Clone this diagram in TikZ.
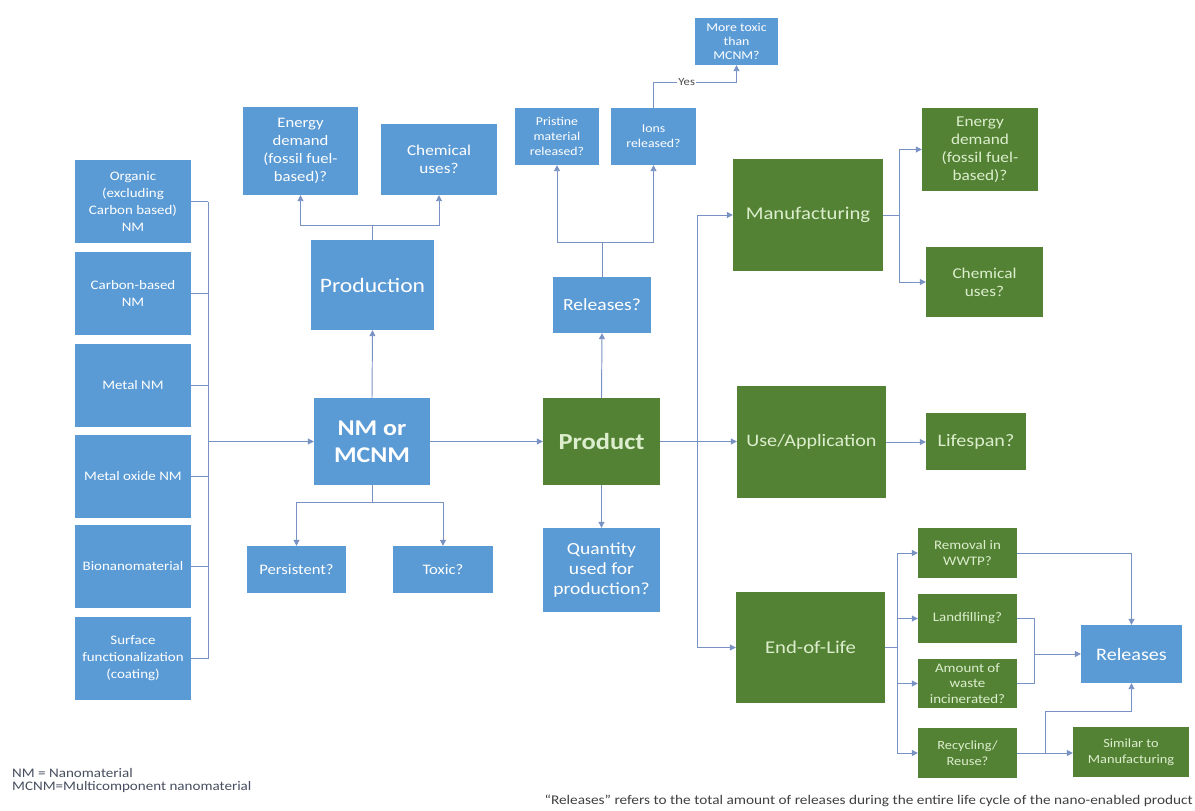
\documentclass[tikz,border=0pt]{standalone}
\usepackage{fontspec}
\setmainfont{Carlito}[FakeStretch=1.15]
\usetikzlibrary{arrows.meta}
\usetikzlibrary{positioning}

\definecolor{boxblue}{RGB}{91,155,213}
\definecolor{boxgreen}{RGB}{84,130,53}
\definecolor{greentext}{RGB}{220,238,205}
\definecolor{wireblue}{RGB}{120,146,196}
\definecolor{notegray}{RGB}{70,78,95}

\begin{document}
\begin{tikzpicture}[x=1pt, y=-1pt,
    bluebox/.style={fill=boxblue, text=white, align=center, inner sep=1pt},
    greenbox/.style={fill=boxgreen, text=greentext, align=center, inner sep=1pt},
    wire/.style={draw=wireblue, line width=0.95pt},
    wirearrow/.style={wire, -{Triangle[length=6pt,width=6pt]}},
]
    \fill[white] (0,0) rectangle (1195,811);
    \useasboundingbox (0,0) rectangle (1195,811);

    % materials
    \node[bluebox, minimum width=116, minimum height=83, font=\fontsize{13}{17}\selectfont] (org) at (133,201.5) {Organic\\(excluding\\Carbon based)\\NM};
    \node[bluebox, minimum width=116, minimum height=83, font=\fontsize{13}{17}\selectfont] (carb) at (133,293.5) {Carbon-based\\NM};
    \node[bluebox, minimum width=116, minimum height=83, font=\fontsize{13}{17}\selectfont] (metal) at (133,385.5) {Metal NM};
    \node[bluebox, minimum width=116, minimum height=83, font=\fontsize{13}{17}\selectfont] (oxide) at (133,476.5) {Metal oxide NM};
    \node[bluebox, minimum width=116, minimum height=83, font=\fontsize{13}{17}\selectfont] (bio) at (133,566.5) {Bionanomaterial};
    \node[bluebox, minimum width=116, minimum height=83, font=\fontsize{13}{17}\selectfont] (surf) at (133,658.5) {Surface\\functionalization\\(coating)};

    % nm and production
    \node[bluebox, minimum width=116, minimum height=87, font=\fontsize{22.5}{27}\selectfont\bfseries] (nm) at (372,441.5) {NM or\\MCNM};
    \node[bluebox, minimum width=123, minimum height=90, font=\fontsize{20.5}{24}\selectfont] (prod) at (372.5,285) {Production};
    \node[bluebox, minimum width=115, minimum height=88, font=\fontsize{14.5}{18}\selectfont] (energyA) at (300.5,151) {Energy\\demand\\(fossil fuel-\\based)?};
    \node[bluebox, minimum width=116, minimum height=71, font=\fontsize{15}{18.5}\selectfont] (chemA) at (439,159.5) {Chemical\\uses?};
    \node[bluebox, minimum width=99, minimum height=47, font=\fontsize{14.5}{18}\selectfont] (pers) at (296.5,569.5) {Persistent?};
    \node[bluebox, minimum width=100, minimum height=47, font=\fontsize{14.5}{18}\selectfont] (tox) at (443,569.5) {Toxic?};

    % product
    \node[greenbox, minimum width=117, minimum height=87, font=\fontsize{23}{27}\selectfont\bfseries] (prodt) at (601.5,441.5) {Product};
    \node[bluebox, minimum width=117, minimum height=84, font=\fontsize{17}{20}\selectfont] (qty) at (601.5,570) {Quantity\\used for\\production?};
    \node[bluebox, minimum width=98, minimum height=56, font=\fontsize{17}{20}\selectfont] (relA) at (602,305) {Releases?};
    \node[bluebox, minimum width=84, minimum height=57, font=\fontsize{12}{15}\selectfont] (prist) at (557,136.5) {Pristine\\material\\released?};
    \node[bluebox, minimum width=85, minimum height=57, font=\fontsize{12}{15}\selectfont] (ions) at (653.5,136.5) {Ions\\released?};
    \node[bluebox, minimum width=83, minimum height=47, font=\fontsize{12}{14}\selectfont] (mtox) at (736.5,41.5) {More toxic\\than\\MCNM?};

    % life cycle
    \node[greenbox, minimum width=150, minimum height=112, font=\fontsize{18}{22}\selectfont] (manu) at (808,215) {Manufacturing};
    \node[greenbox, minimum width=116, minimum height=83, font=\fontsize{15}{18}\selectfont] (energyB) at (980,149.5) {Energy\\demand\\(fossil fuel-\\based)?};
    \node[greenbox, minimum width=117, minimum height=70, font=\fontsize{15}{18}\selectfont] (chemB) at (984.5,282) {Chemical\\uses?};
    \node[greenbox, minimum width=149, minimum height=112, font=\fontsize{17.5}{21}\selectfont] (use) at (811.5,442) {Use/Application};
    \node[greenbox, minimum width=100, minimum height=57, font=\fontsize{17.5}{21}\selectfont] (life) at (976,441.5) {Lifespan?};
    \node[greenbox, minimum width=149, minimum height=111, font=\fontsize{18}{22}\selectfont] (eol) at (810.5,647.5) {End-of-Life};

    % end of life
    \node[greenbox, minimum width=99, minimum height=50, font=\fontsize{13}{15.5}\selectfont] (wwtp) at (967.5,553) {Removal in\\WWTP?};
    \node[greenbox, minimum width=99, minimum height=49, font=\fontsize{13}{15.5}\selectfont] (land) at (967.5,618.5) {Landfilling?};
    \node[greenbox, minimum width=99, minimum height=49, font=\fontsize{13}{15.5}\selectfont] (amt) at (967.5,683.5) {Amount of\\waste\\incinerated?};
    \node[greenbox, minimum width=99, minimum height=50, font=\fontsize{12.5}{15.5}\selectfont] (recy) at (967.5,753) {Recycling/\\Reuse?};
    \node[bluebox, minimum width=101, minimum height=58, font=\fontsize{17.5}{21}\selectfont] (relB) at (1131.5,654) {Releases};
    \node[greenbox, minimum width=116, minimum height=50, font=\fontsize{12.5}{15.5}\selectfont] (sim) at (1131,752) {Similar to\\Manufacturing};

    % notes
    \node[anchor=north west, align=left, inner sep=0, text=notegray, font=\fontsize{13.1}{12.8}\selectfont] (legend) at (12,768) {NM = Nanomaterial\\MCNM=Multicomponent nanomaterial};
    \node[anchor=east, inner sep=0, text=black!75, font=\fontsize{13.3}{15}\selectfont] (note) at (1193,801) {``Releases'' refers to the total amount of releases during the entire life cycle of the nano-enabled product};

    % left bus
    \coordinate (lbus) at (208,441.5);
    \foreach \m in {org, carb, metal, oxide, bio, surf} {
        \draw[wire] (\m.east) -- (\m.east -| lbus);
    }
    \draw[wire] (org.east -| lbus) -- (surf.east -| lbus);
    \draw[wirearrow] (lbus) -- (nm.west);

    % production
    \draw[wirearrow] (nm.north) -- (prod.south);
    \coordinate (pfork) at (372.5,225);
    \draw[wire] (prod.north) -- (pfork);
    \draw[wirearrow] (pfork) -| (energyA.south);
    \draw[wirearrow] (pfork) -| (chemA.south);

    % persistent / toxic
    \coordinate (nfork) at (372,502);
    \draw[wire] (nm.south) -- (nfork);
    \draw[wirearrow] (nfork) -| (pers.north);
    \draw[wirearrow] (nfork) -| (tox.north);

    % product
    \draw[wirearrow] (nm.east) -- (prodt.west);
    \draw[wirearrow] (prodt.south) -- (qty.north);
    \draw[wirearrow] (prodt.north) -- (relA.south);
    \coordinate (rfork) at (602,242);
    \draw[wire] (relA.north) -- (rfork);
    \draw[wirearrow] (rfork) -| (prist.south);
    \draw[wirearrow] (rfork) -| (ions.south);
    \coordinate (ybend) at (653.5,82);
    \draw[wirearrow] (ions.north) -- (ybend) -| node[pos=0.2, fill=white, inner sep=1.5pt, text=black!70, font=\fontsize{11}{13}\selectfont] {Yes} (mtox.south);

    % right bus
    \coordinate (rbus) at (697,441.5);
    \draw[wirearrow] (prodt.east) -- (prodt.east -| use.west);
    \draw[wire] (rbus |- manu.west) -- (rbus |- eol.west);
    \draw[wirearrow] (rbus |- manu.west) -- (manu.west);
    \draw[wirearrow] (rbus |- eol.west) -- (eol.west);

    % manufacturing
    \coordinate (mfork) at (899,215);
    \draw[wire] (manu.east) -- (mfork);
    \draw[wirearrow] (mfork) |- (energyB.west);
    \draw[wirearrow] (mfork) |- (chemB.west);
    \draw[wirearrow] (use.east) -- (use.east -| life.west);

    % end of life
    \coordinate (efork) at (897,647.5);
    \draw[wire] (eol.east) -- (efork);
    \foreach \e in {wwtp, land, amt, recy} {
        \draw[wirearrow] (efork) |- (\e.west);
    }
    \draw[wirearrow] (wwtp.east) -| (relB.north);
    \coordinate (lfork) at (1034,654);
    \draw[wire] (land.east) -| (lfork);
    \draw[wire] (amt.east) -| (lfork);
    \draw[wirearrow] (lfork) -- (relB.west);
    \draw[wirearrow] (recy.east) -- (recy.east -| sim.west);
    \coordinate (rsplit) at (1045,753);
    \coordinate (rup) at (1045,711);
    \draw[wirearrow] (rsplit) -- (rup) -| (relB.south);

\end{tikzpicture}
\end{document}
